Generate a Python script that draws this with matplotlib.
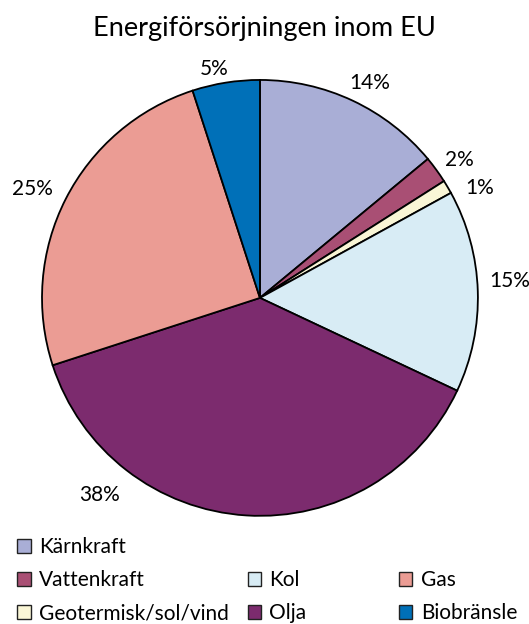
import matplotlib.pyplot as plt
from matplotlib.patches import Patch

# data
sources = ['Kärnkraft', 'Vattenkraft', 'Geotermisk/sol/vind', 'Kol', 'Olja', 'Gas', 'Biobränsle']
shares = [14, 2, 1, 15, 38, 25, 5]
colors = ['#A9AED6', '#A94F74', '#FAF6D6', '#D8ECF5', '#7C2B6E', '#EB9C94', '#0070B8']

# label positions (data units, pie radius = 1)
label_pos = [(0.505, 0.986), (0.917, 0.633), (1.01, 0.505), (1.147, 0.078),
             (-0.734, -0.904), (-1.046, 0.50), (-0.21, 1.05)]

plt.rcParams['font.family'] = ['Lato', 'DejaVu Sans']

fig = plt.figure(figsize=(5.29, 6.24), dpi=100)
ax = fig.add_axes([0.0794, 0.1731, 0.824, 0.699])

wedges, texts, autotexts = ax.pie(shares, colors=colors, startangle=90, counterclock=False,
                                  radius=1, autopct='%1.0f%%', pctdistance=1.1,
                                  wedgeprops=dict(edgecolor='black', linewidth=1.3),
                                  textprops=dict(fontsize=15))
for t, (x, y) in zip(autotexts, label_pos):
    t.set_position((x, y))
    t.set_ha('center')
    t.set_va('center')

ax.set_xlim(-1, 1)
ax.set_ylim(-1, 1)
ax.set_aspect('equal')

fig.text(0.499, 0.955, 'Energiförsörjningen inom EU', ha='center', va='center', fontsize=19.5)

# legend: three columns, blank first row in columns 2 and 3
h = [Patch(facecolor=c, edgecolor='#222222', linewidth=1.0) for c in colors]
blank = Patch(facecolor='none', edgecolor='none')
cols = [([h[0], h[1], h[2]], [sources[0], sources[1], sources[2]], 0.033),
        ([blank, h[3], h[4]], ['', sources[3], sources[4]], 0.468),
        ([blank, h[5], h[6]], ['', sources[5], sources[6]], 0.754)]
for hs, ls, x0 in cols:
    fig.legend(hs, ls, loc='upper left', bbox_to_anchor=(x0, 0.139), frameon=False,
               fontsize=15, handlelength=0.65, handleheight=0.65, handletextpad=0.4,
               labelspacing=0.62, borderaxespad=0, borderpad=0)

fig.savefig('out.png', dpi=100)
